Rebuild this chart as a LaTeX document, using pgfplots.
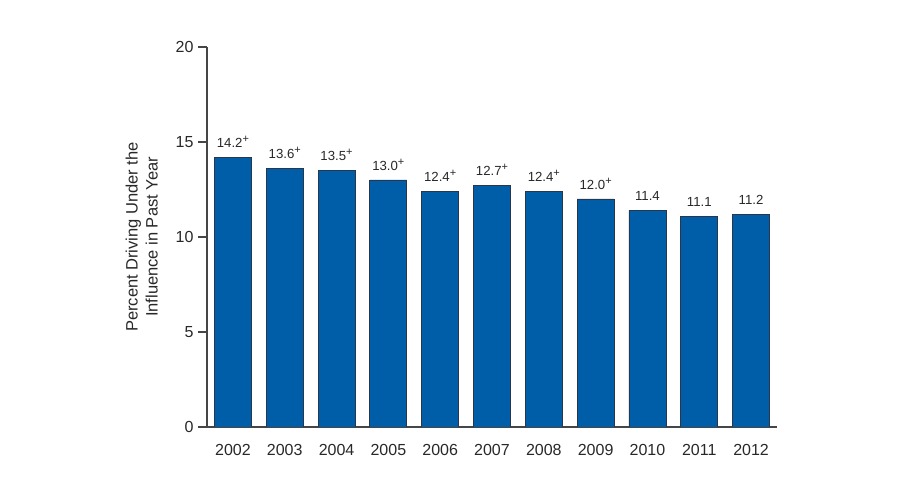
\documentclass[border=0pt]{standalone}
\usepackage{pgfplots}
\pgfplotsset{compat=1.18}
\usepackage{fontspec}
\setmainfont{Liberation Sans}
\definecolor{barblue}{RGB}{0,94,168}
\definecolor{baredge}{RGB}{40,55,75}
\definecolor{axgray}{RGB}{70,70,70}
\definecolor{txt}{RGB}{40,40,40}
\newcommand{\plus}{\raisebox{5pt}{\fontsize{11}{11}\selectfont +}}
\begin{document}
\begin{tikzpicture}
\useasboundingbox (0,0) rectangle (900pt,494pt);
\begin{axis}[
  at={(207pt,67pt)}, anchor=south west,
  scale only axis, width=570pt, height=380pt,
  xmin=-0.5, xmax=10.5, ymin=0, ymax=20,
  axis x line*=bottom, axis y line*=left,
  axis line style={axgray, line width=1.3pt},
  xtick=data,
  xticklabels={2002,2003,2004,2005,2006,2007,2008,2009,2010,2011,2012},
  x tick style={draw=none},
  ytick={0,5,10,15,20},
  y tick style={axgray, line width=1.3pt},
  tick align=outside, major tick length=9pt,
  xticklabel style={font=\fontsize{16}{19}\selectfont, text=txt, yshift=-5pt},
  yticklabel style={font=\fontsize{16}{19}\selectfont, text=txt, xshift=-1pt},
  /pgf/number format/assume math mode=true,
  ylabel={Percent Driving Under the\\Influence in Past Year},
  ylabel style={font=\fontsize{16.5}{20}\selectfont, text=txt, align=center, yshift=11pt},
  ybar, bar width=37pt,
  nodes near coords={\pgfplotspointmeta},
  point meta=explicit symbolic,
  nodes near coords style={font=\fontsize{13.2}{15}\selectfont, text=txt, yshift=6pt},
]
\addplot[fill=barblue, draw=baredge, line width=0.8pt] coordinates {
  (0,14.2) [14.2\plus]
  (1,13.6) [13.6\plus]
  (2,13.5) [13.5\plus]
  (3,13.0) [13.0\plus]
  (4,12.4) [12.4\plus]
  (5,12.7) [12.7\plus]
  (6,12.4) [12.4\plus]
  (7,12.0) [12.0\plus]
  (8,11.4) [11.4]
  (9,11.1) [11.1]
  (10,11.2) [11.2]
};
\end{axis}
\end{tikzpicture}
\end{document}
